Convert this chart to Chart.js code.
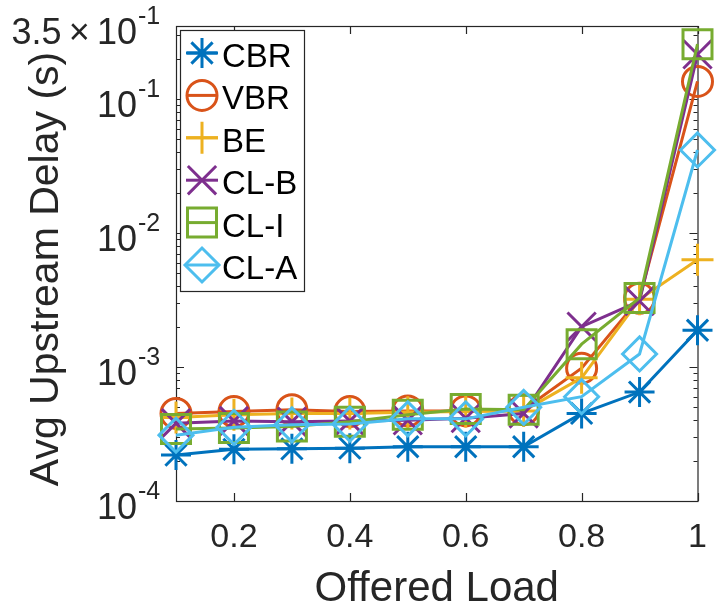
<!DOCTYPE html>
<html>
<head>
<meta charset="utf-8">
<script src="https://cdn.jsdelivr.net/npm/chart.js@4.4.1/dist/chart.umd.min.js"></script>
<style>
html, body { margin: 0; padding: 0; background: #fff; }
</style>
</head>
<body>
<canvas id="delayChart" width="721" height="612"></canvas>
<script>
// data
const offeredLoad = [0.1, 0.2, 0.3, 0.4, 0.5, 0.6, 0.7, 0.8, 0.9, 1.0];
const cbr = [2.2e-4, 2.43e-4, 2.45e-4, 2.48e-4, 2.54e-4, 2.54e-4, 2.54e-4, 4.5e-4, 6.5e-4, 1.88e-3];
const vbr = [4.5e-4, 4.65e-4, 4.8e-4, 4.65e-4, 4.7e-4, 4.7e-4, 4.8e-4, 9.8e-4, 3.25e-3, 0.135];
const be  = [4.2e-4, 4.4e-4, 4.5e-4, 4.5e-4, 4.6e-4, 4.65e-4, 4.7e-4, 8.3e-4, 3.2e-3, 6.3e-3];
const clB = [3.8e-4, 3.95e-4, 3.9e-4, 3.95e-4, 4.0e-4, 4.15e-4, 4.5e-4, 2.0e-3, 3.1e-3, 0.215];
const clI = [3.45e-4, 3.5e-4, 3.6e-4, 3.9e-4, 4.4e-4, 4.85e-4, 4.8e-4, 1.48e-3, 3.27e-3, 0.256];
const clA = [3.1e-4, 3.55e-4, 3.7e-4, 3.75e-4, 4.1e-4, 4.1e-4, 5.0e-4, 6.0e-4, 1.25e-3, 0.0416];

const seriesNames = ['CBR', 'VBR', 'BE', 'CL-B', 'CL-I', 'CL-A'];

const xTickValues = [0.2, 0.4, 0.6, 0.8, 1];
const xTickLabels = ['0.2', '0.4', '0.6', '0.8', '1'];
const yTickValues = [1e-4, 1e-3, 1e-2, 1e-1, 0.35];
const yTickBase = ['10', '10', '10', '10', '3.5\u2009\u00d7\u200910'];
const yTickExp = ['-4', '-3', '-2', '-1', '-1'];

const FONT = '"Liberation Sans", Arial, sans-serif';
const axisColor = '#262626';

// matlab-ish marker styles
const styles = [
  { color: '#0072BD', point: 'star', radius: 15 },
  { color: '#D95319', point: 'circle', radius: 15 },
  { color: '#EDB120', point: 'cross', radius: 16 },
  { color: '#7E2F8E', point: 'crossRot', radius: 20 },
  { color: '#77AC30', point: 'rect', radius: 20.5 },
  { color: '#4DBEEE', point: 'rectRot', radius: 17 }
];

const allSeries = [cbr, vbr, be, clB, clI, clA];

const datasets = allSeries.map((vals, i) => ({
  label: seriesNames[i],
  data: offeredLoad.map((x, j) => ({ x: x, y: vals[j] })),
  borderColor: styles[i].color,
  backgroundColor: 'rgba(0,0,0,0)',
  borderWidth: 3,
  pointStyle: styles[i].point,
  pointRadius: styles[i].radius,
  pointBorderWidth: 3,
  pointBorderColor: styles[i].color,
  pointBackgroundColor: 'rgba(0,0,0,0)',
  tension: 0,
  clip: false,
  order: 6 - i // last series on top, like matlab
}));

const axesPlugin = {
  id: 'axesPlugin',
  beforeDatasetsDraw(chart) {
    const { ctx, chartArea: a, scales: { x, y } } = chart;
    ctx.save();
    ctx.strokeStyle = axisColor;
    ctx.lineWidth = 1.2;
    ctx.strokeRect(a.left + 0.5, a.top + 0.5, a.right - a.left, a.bottom - a.top);

    ctx.beginPath();
    xTickValues.forEach(v => {
      const px = Math.round(x.getPixelForValue(v)) + 0.5;
      ctx.moveTo(px, a.bottom); ctx.lineTo(px, a.bottom - 8);
      ctx.moveTo(px, a.top); ctx.lineTo(px, a.top + 8);
    });
    // log ticks, minor ones shorter
    const e0 = Math.floor(Math.log10(y.min));
    const e1 = Math.ceil(Math.log10(y.max));
    for (let e = e0; e <= e1; e++) {
      for (let k = 1; k <= 9; k++) {
        const v = k * Math.pow(10, e);
        if (v < y.min * 0.999 || v > y.max * 1.001) continue;
        const len = k === 1 ? 8 : 4;
        const py = Math.round(y.getPixelForValue(v)) + 0.5;
        ctx.moveTo(a.left, py); ctx.lineTo(a.left + len, py);
        ctx.moveTo(a.right, py); ctx.lineTo(a.right - len, py);
      }
    }
    ctx.stroke();
    ctx.restore();
  },
  afterDraw(chart) {
    const { ctx, chartArea: a, scales: { x, y } } = chart;
    ctx.save();
    ctx.fillStyle = axisColor;

    // x tick labels
    ctx.font = '34px ' + FONT;
    ctx.textAlign = 'center';
    ctx.textBaseline = 'alphabetic';
    xTickValues.forEach((v, i) => {
      ctx.fillText(xTickLabels[i], x.getPixelForValue(v), 547);
    });

    // y tick labels with exponents
    yTickValues.forEach((v, i) => {
      const py = y.getPixelForValue(v);
      ctx.font = '36px ' + FONT;
      ctx.textAlign = 'right';
      ctx.fillText(yTickBase[i], 137, py + 18);
      ctx.font = '25px ' + FONT;
      ctx.textAlign = 'left';
      ctx.fillText(yTickExp[i], 138, py - 2);
    });

    // axis titles
    ctx.font = '42px ' + FONT;
    ctx.textAlign = 'center';
    ctx.fillText('Offered Load', (a.left + a.right) / 2, 601);
    ctx.save();
    ctx.translate(58, 269);
    ctx.rotate(-Math.PI / 2);
    ctx.font = '41px ' + FONT;
    ctx.fillText('Avg Upstream Delay (s)', 0, 0);
    ctx.restore();

    // legend box
    const lx = 180, ly = 30, lw = 124, lh = 261;
    ctx.fillStyle = '#fff';
    ctx.fillRect(lx, ly, lw, lh);
    ctx.strokeStyle = axisColor;
    ctx.lineWidth = 1.2;
    ctx.strokeRect(lx + 0.5, ly + 0.5, lw, lh);
    seriesNames.forEach((name, i) => {
      const my = 53 + i * 42.4;
      const st = styles[i];
      ctx.strokeStyle = st.color;
      ctx.fillStyle = 'rgba(0,0,0,0)';
      ctx.lineWidth = 3;
      ctx.beginPath();
      ctx.moveTo(186, my); ctx.lineTo(218, my);
      ctx.stroke();
      Chart.helpers.drawPoint(ctx, { pointStyle: st.point, radius: st.radius, rotation: 0, borderWidth: 3 }, 202, my);
      ctx.fillStyle = '#000';
      ctx.font = '33px ' + FONT;
      ctx.textAlign = 'left';
      ctx.fillText(name, 222, my + 14);
    });
    ctx.restore();
  }
};

new Chart(document.getElementById('delayChart'), {
  type: 'line',
  data: { datasets: datasets },
  options: {
    responsive: false,
    animation: false,
    layout: { padding: { top: 26, right: 12, left: 0, bottom: 0 } },
    plugins: { legend: { display: false }, tooltip: { enabled: false } },
    scales: {
      x: {
        type: 'linear', min: 0.1, max: 1,
        ticks: { display: false }, grid: { display: false }, border: { display: false },
        afterFit: s => { s.height = 111; }
      },
      y: {
        type: 'logarithmic', min: 1e-4, max: 0.35,
        ticks: { display: false }, grid: { display: false }, border: { display: false },
        afterFit: s => { s.width = 176; }
      }
    }
  },
  plugins: [axesPlugin]
});
</script>
</body>
</html>
